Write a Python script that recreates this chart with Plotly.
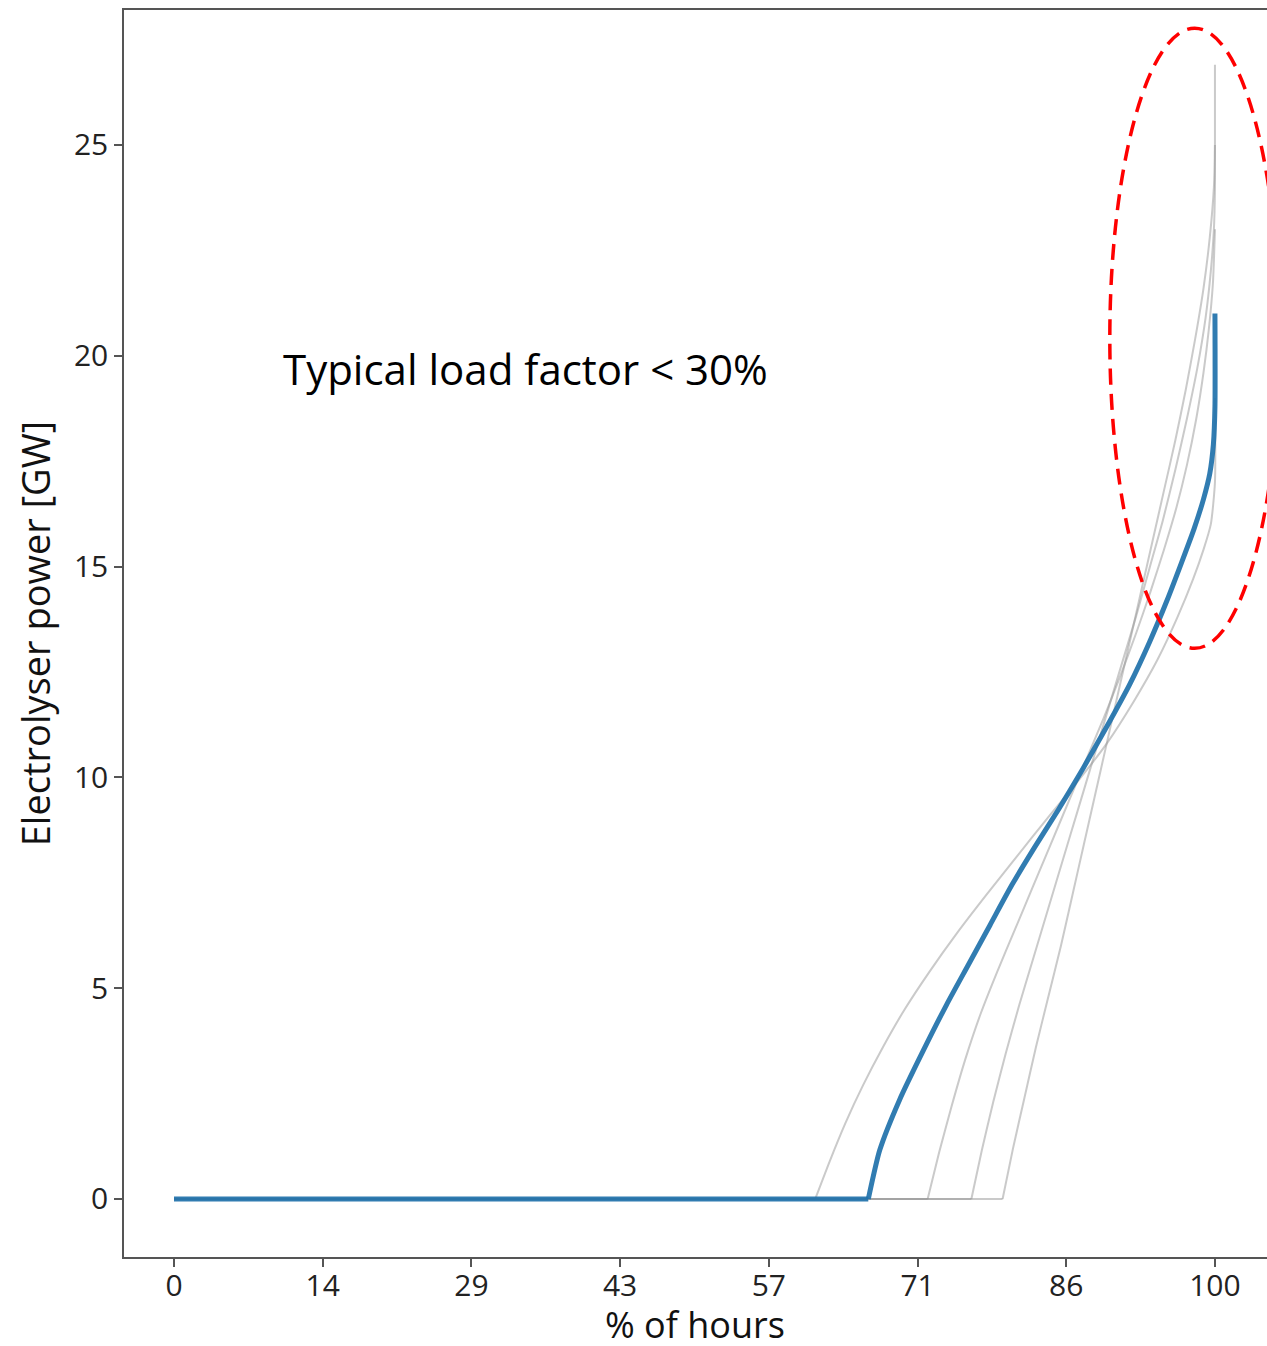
import plotly.graph_objects as go

# ---- data ----
x_tick_labels = ["0", "14", "29", "43", "57", "71", "86", "100"]
x_tick_vals = [k * 100 / 7 for k in range(8)]
y_tick_vals = [0, 5, 10, 15, 20, 25]

# highlighted scenario (blue): flat at 0 until the first rise, then the duration curve
blue_x = [0, 66.7, 67.8, 69.7, 72.0, 74.2, 76.3, 78.4, 80.5, 82.7, 85.0, 87.3, 89.6, 91.8, 93.7, 95.4, 96.8, 98.0, 98.9, 99.5, 99.85, 100, 100]
blue_y = [0, 0, 1.16, 2.35, 3.53, 4.6, 5.55, 6.5, 7.45, 8.35, 9.25, 10.2, 11.2, 12.2, 13.2, 14.2, 15.1, 15.9, 16.6, 17.2, 17.9, 18.8, 21.0]

# other scenarios (grey)
grey_a_x = [0, 61.6, 63.0, 64.5, 66.2, 68.1, 70.2, 72.6, 75.2, 78.0, 80.9, 83.8, 86.8, 89.6, 92.2, 94.5, 96.4, 97.9, 98.9, 99.6, 100, 100]
grey_a_y = [0, 0, 0.9, 1.8, 2.7, 3.6, 4.5, 5.4, 6.3, 7.2, 8.1, 9.0, 9.9, 10.8, 11.8, 12.8, 13.8, 14.7, 15.4, 16.0, 17.0, 19.0]

grey_b_x = [0, 72.4, 73.5, 74.7, 76.0, 77.5, 79.1, 80.8, 82.5, 84.2, 85.9, 87.6, 89.3, 90.9, 92.4, 93.8, 95.1, 96.3, 97.3, 98.2, 98.9, 99.4, 99.8, 100]
grey_b_y = [0, 0, 1.1, 2.2, 3.3, 4.4, 5.4, 6.4, 7.4, 8.4, 9.4, 10.4, 11.4, 12.4, 13.4, 14.4, 15.4, 16.4, 17.4, 18.5, 19.6, 20.6, 21.7, 23.0]

grey_c_x = [0, 76.6, 77.6, 78.7, 79.9, 81.2, 82.6, 84.0, 85.4, 86.8, 88.2, 89.6, 91.0, 92.4, 93.7, 95.0, 96.2, 97.3, 98.3, 99.1, 99.6, 99.9, 100, 100]
grey_c_y = [0, 0, 1.15, 2.3, 3.45, 4.6, 5.75, 6.9, 8.05, 9.2, 10.35, 11.5, 12.65, 13.8, 14.95, 16.1, 17.3, 18.5, 19.7, 20.9, 22.0, 23.0, 24.0, 25.0]

grey_d_x = [0, 79.6, 80.6, 81.7, 82.8, 84.0, 85.2, 86.3, 87.4, 88.5, 89.6, 90.7, 91.8, 92.9, 94.0, 95.1, 96.2, 97.2, 98.1, 98.9, 99.5, 99.9, 100, 100]
grey_d_y = [0, 0, 1.2, 2.4, 3.6, 4.8, 6.0, 7.2, 8.4, 9.6, 10.8, 12.0, 13.2, 14.4, 15.6, 16.8, 18.0, 19.2, 20.4, 21.6, 22.8, 24.0, 25.0, 26.9]

greys = [(grey_a_x, grey_a_y), (grey_b_x, grey_b_y), (grey_c_x, grey_c_y), (grey_d_x, grey_d_y)]

annotation_text = "Typical load factor < 30%"
x_title = "% of hours"
y_title = "Electrolyser power [GW]"

GREY = "rgba(150,150,150,0.5)"
BLUE = "rgba(31,113,170,0.92)"


def add_curve(fig, xs, ys, color, width):
    # flat zero run drawn straight, rising part smoothed
    fig.add_trace(go.Scatter(x=xs[:2], y=ys[:2], mode="lines",
                             line=dict(color=color, width=width),
                             showlegend=False, hoverinfo="skip"))
    fig.add_trace(go.Scatter(x=xs[1:], y=ys[1:], mode="lines",
                             line=dict(color=color, width=width,
                                       shape="spline", smoothing=0.6),
                             showlegend=False, hoverinfo="skip"))


fig = go.Figure()
for gx, gy in greys:
    add_curve(fig, gx, gy, GREY, 2)
add_curve(fig, blue_x, blue_y, BLUE, 5)

fig.add_shape(type="circle", xref="x", yref="y",
              x0=89.9, x1=106.2, y0=13.06, y1=27.77,
              line=dict(color="#ff0000", width=3.5, dash="16px,9px"))

fig.add_annotation(x=33.77, y=19.7, xref="x", yref="y", text=annotation_text,
                   showarrow=False, xanchor="center", yanchor="middle",
                   font=dict(family="Open Sans", size=42, color="#000000"))

fig.add_annotation(x=0.4996, y=-0.0545, xref="paper", yref="paper", text=x_title,
                   showarrow=False, xanchor="center", yanchor="middle",
                   font=dict(family="Open Sans", size=36, color="#111111"))

axis_font = dict(family="Open Sans", size=30, color="#222222")
fig.update_layout(
    width=1267, height=1346,
    margin=dict(l=124, r=0, t=10, b=89),
    paper_bgcolor="white", plot_bgcolor="white",
    xaxis=dict(range=[-4.803, 105.0], tickvals=x_tick_vals, ticktext=x_tick_labels,
               showgrid=False, zeroline=False, showline=True, mirror=True,
               linecolor="#555555", linewidth=1.5,
               ticks="outside", ticklen=8, tickwidth=1.5, tickcolor="#555555",
               tickfont=axis_font, ticklabelstandoff=-7),
    yaxis=dict(range=[-1.376, 28.20], tickvals=y_tick_vals,
               showgrid=False, zeroline=False, showline=True,
               linecolor="#555555", linewidth=1.5,
               ticks="outside", ticklen=8, tickwidth=1.5, tickcolor="#555555",
               tickfont=axis_font,
               title=dict(text=y_title, font=dict(family="Open Sans", size=38, color="#111111"), standoff=12)),
    font=dict(family="Open Sans"),
)

fig.write_html("out.html")
